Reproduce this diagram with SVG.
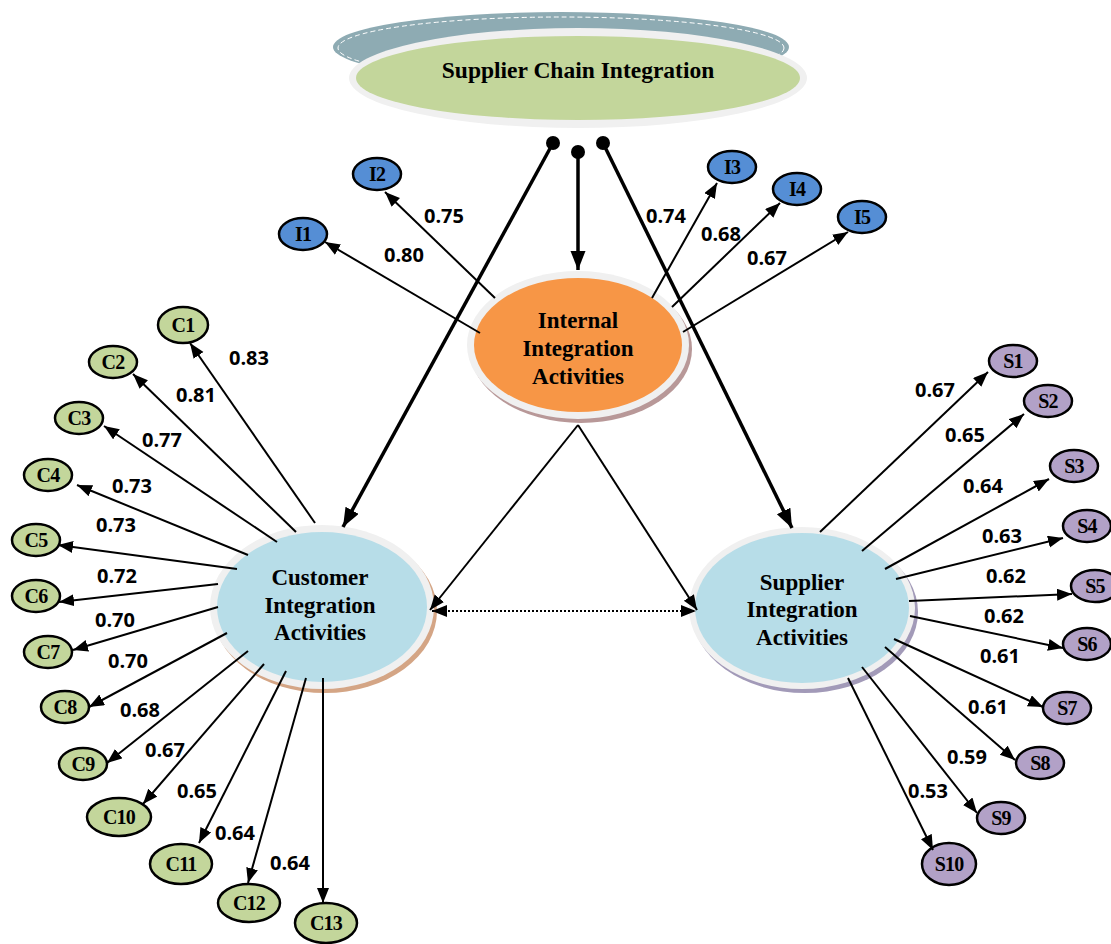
<svg xmlns="http://www.w3.org/2000/svg" width="1111" height="944" viewBox="0 0 1111 944">
<style>
.n{stroke:#000;stroke-width:2.5}
.c{fill:#c3d69b}
.i{fill:#558ed5}
.s{fill:#b2a1c7}
.nt{font-family:"Liberation Serif","Times New Roman",serif;font-weight:bold;font-size:20px;text-anchor:middle;letter-spacing:-0.8px;fill:#000}
.mt{font-family:"Liberation Serif","Times New Roman",serif;font-weight:bold;font-size:23px;text-anchor:middle;fill:#000}
.lb{font-family:"Open Sans","Liberation Sans",sans-serif;font-weight:bold;font-size:20px;text-anchor:middle;fill:#000}
.a{stroke:#000;stroke-width:2;fill:none;marker-end:url(#ah)}
.t{stroke:#000;stroke-width:3.5;fill:none;marker-end:url(#ahb)}
.ring{fill:#f0f0f0}
</style>
<defs>
<marker id="ah" markerUnits="userSpaceOnUse" markerWidth="16" markerHeight="14" refX="15" refY="6" orient="auto">
<path d="M0,0 L15,6 L0,12 z" fill="#000"/>
</marker>
<marker id="ahs" markerUnits="userSpaceOnUse" markerWidth="16" markerHeight="14" refX="15" refY="6" orient="auto-start-reverse">
<path d="M0,0 L15,6 L0,12 z" fill="#000"/>
</marker>
<marker id="ahb" markerUnits="userSpaceOnUse" markerWidth="20" markerHeight="16" refX="19" refY="7.5" orient="auto">
<path d="M0,0 L19,7.5 L0,15 z" fill="#000"/>
</marker>
</defs>
<rect width="1111" height="944" fill="#fff"/>

<g id="supply-chain">
<ellipse cx="561" cy="47" rx="228" ry="35" fill="#8eabb3"/>
<ellipse cx="561" cy="48" rx="223" ry="31" fill="none" stroke="#fff" stroke-width="1" stroke-dasharray="5 3"/>
<ellipse cx="578" cy="78" rx="229" ry="50" class="ring"/>
<ellipse cx="578" cy="78" rx="222" ry="42" fill="#c3d69b"/>
<text x="578" y="78" class="mt" style="font-size:23.5px">Supplier Chain Integration</text>
</g>

<g id="internal">
<ellipse cx="581" cy="349" rx="111" ry="74" fill="#b89898"/>
<ellipse cx="578" cy="345" rx="111" ry="74" class="ring"/>
<ellipse cx="578" cy="345" rx="104" ry="67" fill="#f79646"/>
<text x="578" y="328" class="mt">Internal</text>
<text x="578" y="356" class="mt">Integration</text>
<text x="578" y="384" class="mt">Activities</text>
</g>

<g id="customer">
<ellipse cx="325" cy="611" rx="112" ry="82" fill="#d4a585"/>
<ellipse cx="322" cy="607" rx="112" ry="82" class="ring"/>
<ellipse cx="322" cy="607" rx="105" ry="75" fill="#b7dde8"/>
<text x="320" y="585" class="mt">Customer</text>
<text x="320" y="613" class="mt">Integration</text>
<text x="320" y="640" class="mt">Activities</text>
</g>

<g id="supplier">
<ellipse cx="805" cy="612" rx="113" ry="81" fill="#a29ab8"/>
<ellipse cx="802" cy="608" rx="113" ry="81" class="ring"/>
<ellipse cx="802" cy="608" rx="107" ry="75" fill="#b7dde8"/>
<text x="802" y="590" class="mt">Supplier</text>
<text x="802" y="617" class="mt">Integration</text>
<text x="802" y="645" class="mt">Activities</text>
</g>

<g id="I1"><ellipse cx="303" cy="234" rx="24" ry="16" class="n i"/><text x="303" y="241" class="nt">I1</text></g>
<g id="I2"><ellipse cx="377" cy="174" rx="24" ry="16" class="n i"/><text x="377" y="181" class="nt">I2</text></g>
<g id="I3"><ellipse cx="732" cy="167" rx="24" ry="16" class="n i"/><text x="732" y="174" class="nt">I3</text></g>
<g id="I4"><ellipse cx="797" cy="189" rx="24" ry="16" class="n i"/><text x="797" y="196" class="nt">I4</text></g>
<g id="I5"><ellipse cx="862" cy="217" rx="24" ry="16" class="n i"/><text x="862" y="224" class="nt">I5</text></g>

<g id="C1"><ellipse cx="183" cy="325" rx="25" ry="18" class="n c"/><text x="183" y="332" class="nt">C1</text></g>
<g id="C2"><ellipse cx="113" cy="362" rx="24" ry="16" class="n c"/><text x="113" y="369" class="nt">C2</text></g>
<g id="C3"><ellipse cx="79" cy="418" rx="24" ry="16" class="n c"/><text x="79" y="425" class="nt">C3</text></g>
<g id="C4"><ellipse cx="48" cy="475" rx="24" ry="16" class="n c"/><text x="48" y="482" class="nt">C4</text></g>
<g id="C5"><ellipse cx="36" cy="540" rx="24" ry="16" class="n c"/><text x="36" y="547" class="nt">C5</text></g>
<g id="C6"><ellipse cx="36" cy="596" rx="24" ry="16" class="n c"/><text x="36" y="603" class="nt">C6</text></g>
<g id="C7"><ellipse cx="48" cy="652" rx="24" ry="16" class="n c"/><text x="48" y="659" class="nt">C7</text></g>
<g id="C8"><ellipse cx="65" cy="707" rx="24" ry="16" class="n c"/><text x="65" y="714" class="nt">C8</text></g>
<g id="C9"><ellipse cx="83" cy="764" rx="24" ry="16" class="n c"/><text x="83" y="771" class="nt">C9</text></g>
<g id="C10"><ellipse cx="119" cy="817" rx="32" ry="19" class="n c"/><text x="119" y="824" class="nt">C10</text></g>
<g id="C11"><ellipse cx="181" cy="864" rx="31" ry="20" class="n c"/><text x="181" y="871" class="nt">C11</text></g>
<g id="C12"><ellipse cx="249" cy="903" rx="31" ry="19" class="n c"/><text x="249" y="910" class="nt">C12</text></g>
<g id="C13"><ellipse cx="326" cy="923" rx="31" ry="20" class="n c"/><text x="326" y="930" class="nt">C13</text></g>

<g id="S1"><ellipse cx="1013" cy="361" rx="24" ry="16" class="n s"/><text x="1013" y="368" class="nt">S1</text></g>
<g id="S2"><ellipse cx="1048" cy="401" rx="24" ry="16" class="n s"/><text x="1048" y="408" class="nt">S2</text></g>
<g id="S3"><ellipse cx="1074" cy="466" rx="24" ry="16" class="n s"/><text x="1074" y="473" class="nt">S3</text></g>
<g id="S4"><ellipse cx="1087" cy="526" rx="24" ry="16" class="n s"/><text x="1087" y="533" class="nt">S4</text></g>
<g id="S5"><ellipse cx="1095" cy="586" rx="24" ry="16" class="n s"/><text x="1095" y="593" class="nt">S5</text></g>
<g id="S6"><ellipse cx="1087" cy="644" rx="24" ry="16" class="n s"/><text x="1087" y="651" class="nt">S6</text></g>
<g id="S7"><ellipse cx="1067" cy="708" rx="24" ry="16" class="n s"/><text x="1067" y="715" class="nt">S7</text></g>
<g id="S8"><ellipse cx="1040" cy="763" rx="24" ry="16" class="n s"/><text x="1040" y="770" class="nt">S8</text></g>
<g id="S9"><ellipse cx="1001" cy="818" rx="24" ry="16" class="n s"/><text x="1001" y="825" class="nt">S9</text></g>
<g id="S10"><ellipse cx="949" cy="864" rx="27" ry="21" class="n s"/><text x="949" y="871" class="nt">S10</text></g>

<g id="connectors">
<line x1="553" y1="143" x2="343" y2="527" class="t"/>
<line x1="578" y1="152" x2="578" y2="270" class="t"/>
<line x1="603" y1="143" x2="792" y2="528" class="t"/>
<circle cx="553" cy="143" r="7" fill="#000"/>
<circle cx="578" cy="152" r="7" fill="#000"/>
<circle cx="603" cy="143" r="7" fill="#000"/>

<line x1="578" y1="425" x2="430" y2="610" class="a"/>
<line x1="578" y1="425" x2="697" y2="610" class="a"/>
<line x1="432" y1="611" x2="696" y2="611" stroke="#000" stroke-width="2" stroke-dasharray="2 2" marker-start="url(#ahs)" marker-end="url(#ahs)"/>

<line x1="480" y1="333" x2="325" y2="242" class="a"/>
<line x1="495" y1="298" x2="385" y2="192" class="a"/>
<line x1="652" y1="298" x2="717" y2="183" class="a"/>
<line x1="672" y1="307" x2="780" y2="203" class="a"/>
<line x1="683" y1="332" x2="848" y2="232" class="a"/>

<line x1="315" y1="523" x2="190" y2="343" class="a"/>
<line x1="296" y1="532" x2="133" y2="374" class="a"/>
<line x1="277" y1="542" x2="104" y2="426" class="a"/>
<line x1="248" y1="555" x2="77" y2="485" class="a"/>
<line x1="237" y1="569" x2="58" y2="545" class="a"/>
<line x1="218" y1="584" x2="59" y2="602" class="a"/>
<line x1="218" y1="607" x2="73" y2="650" class="a"/>
<line x1="227" y1="633" x2="89" y2="707" class="a"/>
<line x1="248" y1="651" x2="107" y2="763" class="a"/>
<line x1="264" y1="664" x2="143" y2="804" class="a"/>
<line x1="286" y1="671" x2="199" y2="843" class="a"/>
<line x1="306" y1="678" x2="248" y2="883" class="a"/>
<line x1="323" y1="678" x2="323" y2="903" class="a"/>

<line x1="820" y1="532" x2="988" y2="372" class="a"/>
<line x1="862" y1="551" x2="1024" y2="414" class="a"/>
<line x1="885" y1="569" x2="1049" y2="479" class="a"/>
<line x1="896" y1="579" x2="1063" y2="538" class="a"/>
<line x1="909" y1="601" x2="1072" y2="594" class="a"/>
<line x1="910" y1="616" x2="1063" y2="648" class="a"/>
<line x1="894" y1="639" x2="1043" y2="707" class="a"/>
<line x1="885" y1="647" x2="1015" y2="760" class="a"/>
<line x1="862" y1="667" x2="977" y2="813" class="a"/>
<line x1="848" y1="678" x2="933" y2="850" class="a"/>
</g>

<g id="labels">
<text x="404" y="262" class="lb">0.80</text>
<text x="444" y="223" class="lb">0.75</text>
<text x="666" y="223" class="lb">0.74</text>
<text x="721" y="241" class="lb">0.68</text>
<text x="767" y="265" class="lb">0.67</text>

<text x="249" y="365" class="lb">0.83</text>
<text x="196" y="402" class="lb">0.81</text>
<text x="162" y="447" class="lb">0.77</text>
<text x="132" y="493" class="lb">0.73</text>
<text x="116" y="532" class="lb">0.73</text>
<text x="117" y="583" class="lb">0.72</text>
<text x="115" y="627" class="lb">0.70</text>
<text x="128" y="668" class="lb">0.70</text>
<text x="140" y="717" class="lb">0.68</text>
<text x="165" y="757" class="lb">0.67</text>
<text x="197" y="798" class="lb">0.65</text>
<text x="235" y="840" class="lb">0.64</text>
<text x="290" y="870" class="lb">0.64</text>

<text x="935" y="397" class="lb">0.67</text>
<text x="965" y="442" class="lb">0.65</text>
<text x="983" y="493" class="lb">0.64</text>
<text x="1002" y="543" class="lb">0.63</text>
<text x="1006" y="583" class="lb">0.62</text>
<text x="1004" y="623" class="lb">0.62</text>
<text x="1000" y="663" class="lb">0.61</text>
<text x="988" y="714" class="lb">0.61</text>
<text x="967" y="764" class="lb">0.59</text>
<text x="928" y="798" class="lb">0.53</text>
</g>
</svg>
